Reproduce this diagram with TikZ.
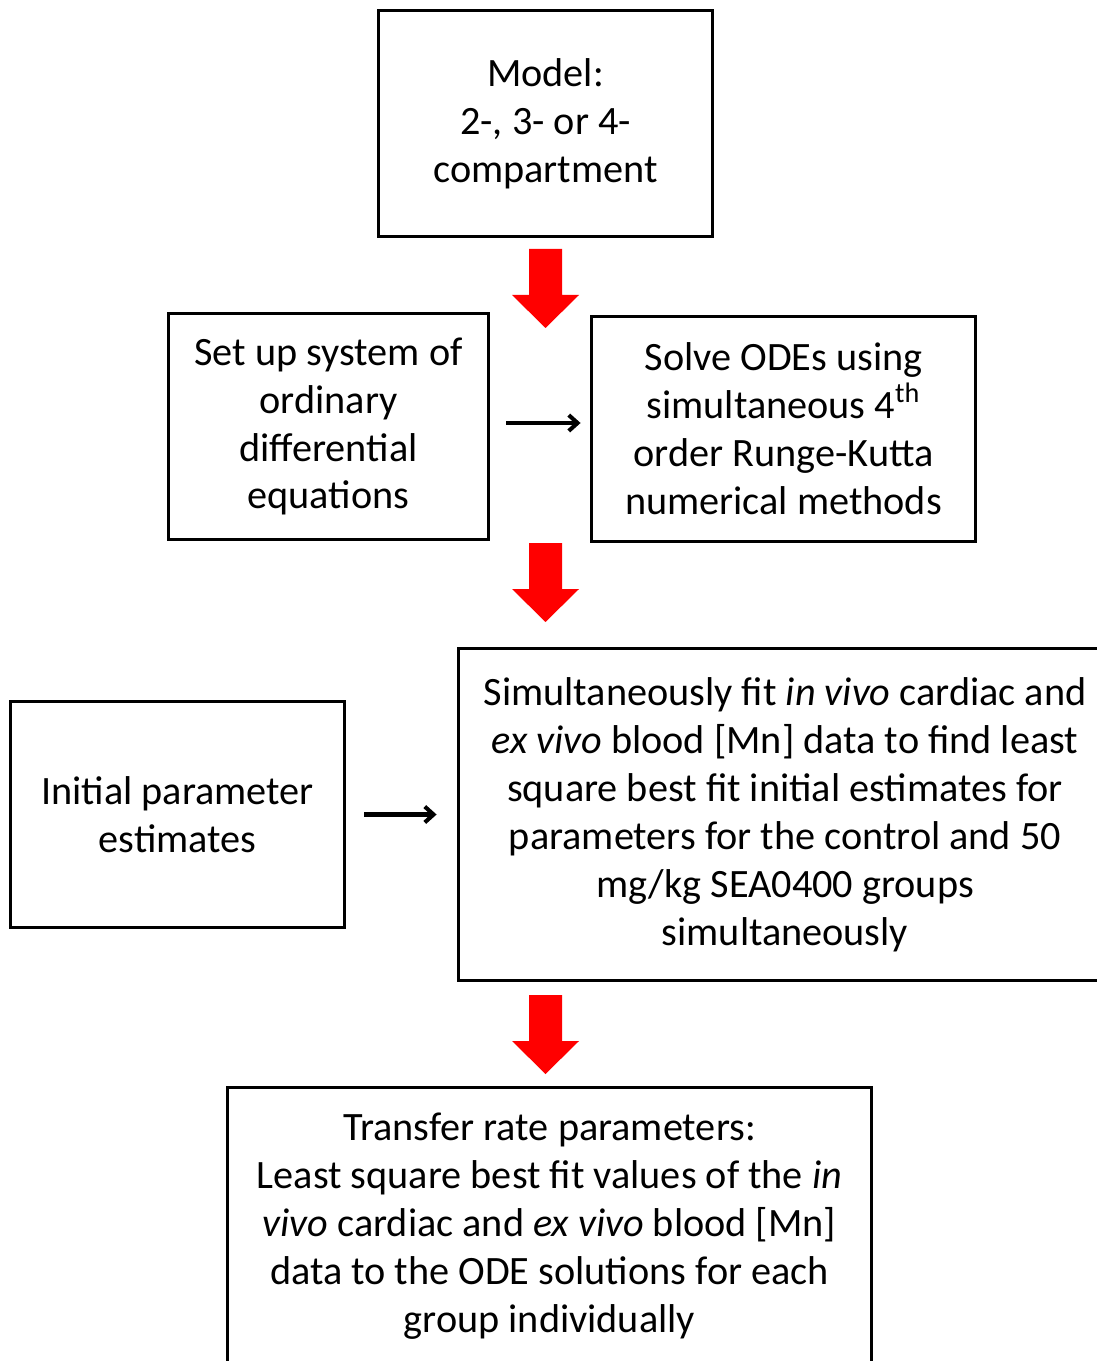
\documentclass[tikz,border=0pt]{standalone}
\usepackage{fontspec}
\setmainfont{Carlito}
\usetikzlibrary{arrows.meta}

\begin{document}
\begin{tikzpicture}[x=0.02cm, y=-0.02cm,
                box/.style={draw, rectangle, line width=1.7pt, align=center, inner sep=0pt, font=\fontsize{22.9}{27.3}\selectfont},
                arrow/.style={-{Straight Barb[length=5pt, width=9pt]}, line width=2.3pt},
                blockarrow/.style={fill=red}]

                \useasboundingbox (0,0) rectangle (1097,1361);
                \clip (0,0) rectangle (1097,1361);

                \node[box, minimum width=6.7cm, minimum height=4.54cm] (model) at (545.5,123.5) {Model:\\2-, 3- or 4-\\compartment};

                \node[box, minimum width=6.42cm, minimum height=4.54cm] (setup) at (328.5,426.5) {Set up system of\\ordinary\\differential\\equations};
                \node[box, minimum width=7.7cm, minimum height=4.52cm] (solve) at (783.5,429) {Solve ODEs using\\simultaneous 4\textsuperscript{th}\\order Runge-Kutta\\numerical methods};

                \node[box, minimum width=6.7cm, minimum height=4.54cm] (init) at (177.5,814.5) {Initial parameter\\estimates};
                \node[box, minimum width=13.08cm, minimum height=6.66cm] (fit) at (785,814.5) {Simultaneously fit \textit{in vivo} cardiac and\\\textit{ex vivo} blood [Mn] data to find least\\square best fit initial estimates for\\parameters for the control and 50\\mg/kg SEA0400 groups\\simultaneously};

                \node[box, minimum width=12.9cm, minimum height=5.56cm] (rates) at (549.5,1226) {Transfer rate parameters:\\Least square best fit values of the \textit{in}\\\textit{vivo} cardiac and \textit{ex vivo} blood [Mn]\\data to the ODE solutions for each\\group individually};

                % red block arrows between the stages
                \foreach \yt in {249,543,995}
                    \fill[blockarrow] (529,\yt) -- (562,\yt) -- (562,\yt+46) -- (579,\yt+46) -- (545.5,\yt+79)
                        -- (512,\yt+46) -- (529,\yt+46) -- cycle;

                \draw[arrow, shorten <=0.32cm, shorten >=0.18cm] (setup.east |- 0,423) -- (solve.west |- 0,423);
                \draw[arrow, shorten <=0.36cm, shorten >=0.4cm] (init.east) -- (fit.west |- init.east);
            \end{tikzpicture}
\end{document}
